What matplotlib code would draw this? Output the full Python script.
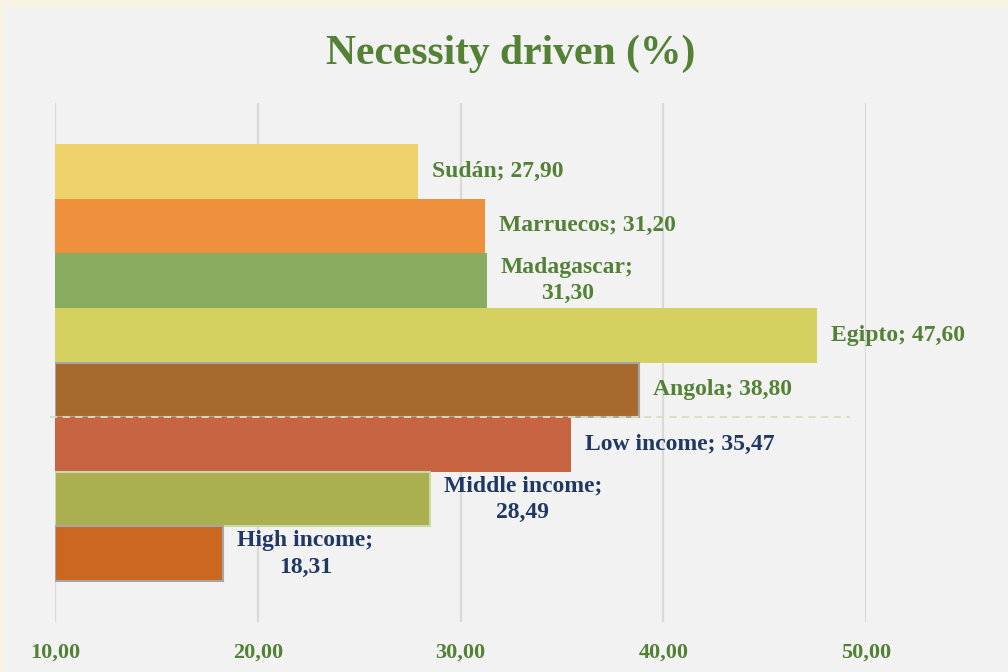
import matplotlib
matplotlib.use("Agg")
import matplotlib.pyplot as plt
from matplotlib.patches import Rectangle

categories = ["Sudán", "Marruecos", "Madagascar", "Egipto", "Angola",
              "Low income", "Middle income", "High income"]
values = [27.90, 31.20, 31.30, 47.60, 38.80, 35.47, 28.49, 18.31]
bar_colors = ["#EED26B", "#EF913C", "#8AAC60", "#D4D161", "#A66A2F",
              "#C76441", "#AAB050", "#CB671F"]
edge_colors = ["none", "none", "none", "none", "#A6A6A6",
               "none", "#C9D9A6", "#A6A6A6"]
label_colors = ["#538135"] * 5 + ["#203864"] * 3
wrap = [False, False, True, False, False, False, True, True]
xticks = [10, 20, 30, 40, 50]
title = "Necessity driven (%)"

GREEN = "#538135"
FONT = "Liberation Serif"

fig = plt.figure(figsize=(10.08, 6.72), dpi=100)
fig.patch.set_facecolor("#F8F4E4")
fig.add_artist(Rectangle((3 / 1008, 0), 1, 1 - 8 / 672, transform=fig.transFigure,
                         facecolor="#F2F2F2", edgecolor="none", zorder=0))

ax = fig.add_axes([55 / 1008, 1 - 622 / 672, (866 - 55) / 1008, (622 - 103) / 672])
ax.set_facecolor("none")
ax.set_xlim(10, 50)
ax.set_ylim(8.25, -1.25)

ypos = list(range(len(categories)))
for y, v, c, ec in zip(ypos, values, bar_colors, edge_colors):
    ax.barh(y, v - 10, left=10, height=1.0, color=c,
            edgecolor=ec, linewidth=1.5 if ec != "none" else 0, zorder=3)

for y, v, cat, lc, w in zip(ypos, values, categories, label_colors, wrap):
    num = f"{v:.2f}".replace(".", ",")
    txt = f"{cat};\n{num}" if w else f"{cat}; {num}"
    ax.annotate(txt, xy=(v, y), xytext=(10, 0), textcoords="offset points",
                ha="left", va="center", multialignment="center",
                fontsize=17, fontweight="bold", color=lc, family=FONT,
                linespacing=1.35, zorder=5, annotation_clip=False)

# separator between countries and income groups
ax.hlines(4.5, 9.75, 49.2, colors="#D3DFC0", linestyles=(0, (4, 3)),
          linewidth=1.3, zorder=4, clip_on=False)

ax.set_xticks(xticks)
ax.set_xticklabels([f"{t:.2f}".replace(".", ",") for t in xticks])
ax.tick_params(axis="x", length=0, pad=15, labelsize=16, labelcolor=GREEN)
for lab in ax.get_xticklabels():
    lab.set_fontfamily(FONT)
    lab.set_fontweight("bold")
ax.set_yticks([])
ax.grid(axis="x", color="#D9D9D9", linewidth=1.6, zorder=1)
ax.set_axisbelow(True)
for s in ax.spines.values():
    s.set_visible(False)

fig.text(511 / 1008, 1 - 54 / 672, title, ha="center", va="center",
         fontsize=30, fontweight="bold", color=GREEN, family=FONT)

fig.savefig("out.png", dpi=100, facecolor=fig.get_facecolor())
